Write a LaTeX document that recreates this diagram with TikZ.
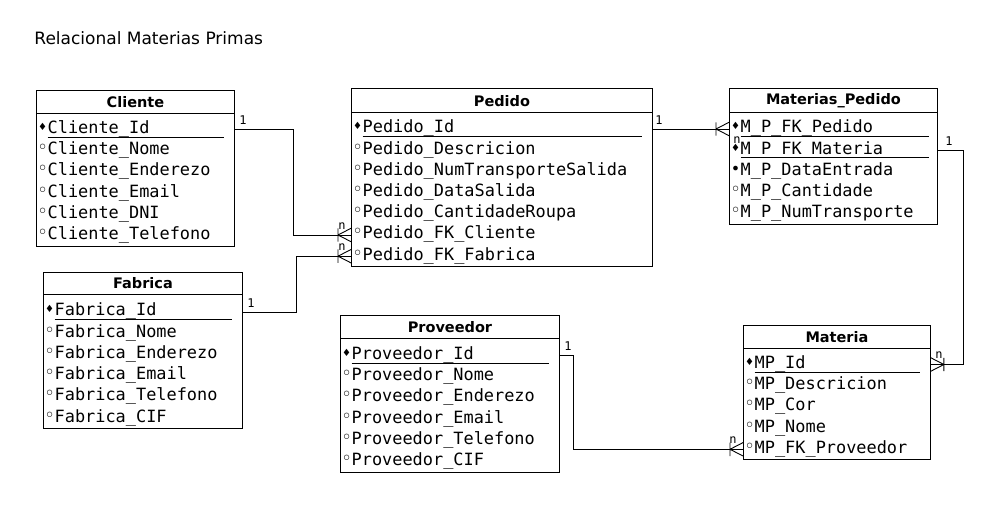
\documentclass[tikz,border=0pt]{standalone}
\usepackage{fontspec}
\setmainfont{DejaVu Sans}
\setmonofont{DejaVu Sans Mono}
\newfontfamily\markfont{DejaVu Sans}
\usepackage{tikz}
\usetikzlibrary{positioning, fit}

% attribute markers
\newcommand{\pkm}{\makebox[10.2pt][c]{\markfont\fontsize{10}{10}\selectfont\raisebox{3pt}{♦}}}
\newcommand{\atm}{\makebox[10.2pt][c]{\markfont\fontsize{18}{18}\selectfont\raisebox{1pt}{◦}}}
\newcommand{\reqm}{\makebox[10.2pt][c]{\markfont\fontsize{16}{16}\selectfont\raisebox{1pt}{•}}}
\newcommand{\pk}[2]{\pkm\rlap{\rule[-4pt]{#1}{0.8pt}}#2}
% crow's foot at a box edge, #2 = side of the vertex
\newcommand{\crowfoot}[2]{%
  \draw ([xshift=#2]#1) -- ([yshift=6.7pt]#1)
        ([xshift=#2]#1) -- ([yshift=-6.7pt]#1)
        ([xshift=#2,yshift=6.7pt]#1) -- ([xshift=#2,yshift=-6.7pt]#1);}

\begin{document}
\begin{tikzpicture}[x=1pt, y=-1pt, line width=0.9pt]
    \tikzstyle{head} = [rectangle, draw, anchor=north west, inner sep=0pt, minimum height=23pt, font=\bfseries\fontsize{14.5}{15}\selectfont]
    \tikzstyle{attr} = [rectangle, inner sep=0pt, outer sep=0pt, minimum height=21.2pt, text height=12pt, text depth=4pt, font=\ttfamily\fontsize{16.9}{17}\selectfont]
    \tikzstyle{box} = [rectangle, draw, inner sep=0pt]
    \tikzstyle{card} = [inner sep=0pt, font=\ttfamily\fontsize{12}{12}\selectfont]
    \tikzstyle{line} = [draw]

    \path [fill=white] (0,0) rectangle (995,510);
    \useasboundingbox (0,0) rectangle (995,510);

    \node [anchor=west, inner sep=0pt, font=\fontsize{17}{17}\selectfont] (title) at (34,38) {Relacional Materias Primas};

    % Cliente
    \node [head, minimum width=198pt] (cli) at (36,90) {Cliente};
    \node [attr, below=5pt of cli.south west, anchor=north west, xshift=1.5pt] (cli-id) {\pk{176.3pt}{Cliente\_Id}};
    \node [attr, below=0pt of cli-id.south west, anchor=north west] (cli-nome) {\atm Cliente\_Nome};
    \node [attr, below=0pt of cli-nome.south west, anchor=north west] (cli-end) {\atm Cliente\_Enderezo};
    \node [attr, below=0pt of cli-end.south west, anchor=north west] (cli-mail) {\atm Cliente\_Email};
    \node [attr, below=0pt of cli-mail.south west, anchor=north west] (cli-dni) {\atm Cliente\_DNI};
    \node [attr, below=0pt of cli-dni.south west, anchor=north west] (cli-tel) {\atm Cliente\_Telefono};
    \node [box, fit=(cli)(cli-tel)] (cli-box) {};

    % Pedido
    \node [head, minimum width=301pt, minimum height=24pt] (ped) at (351,88.5) {Pedido};
    \node [attr, below=5pt of ped.south west, anchor=north west, xshift=1.5pt] (ped-id) {\pk{279.3pt}{Pedido\_Id}};
    \node [attr, below=0pt of ped-id.south west, anchor=north west] (ped-desc) {\atm Pedido\_Descricion};
    \node [attr, below=0pt of ped-desc.south west, anchor=north west] (ped-num) {\atm Pedido\_NumTransporteSalida};
    \node [attr, below=0pt of ped-num.south west, anchor=north west] (ped-data) {\atm Pedido\_DataSalida};
    \node [attr, below=0pt of ped-data.south west, anchor=north west] (ped-cant) {\atm Pedido\_CantidadeRoupa};
    \node [attr, below=0pt of ped-cant.south west, anchor=north west] (ped-fkcli) {\atm Pedido\_FK\_Cliente};
    \node [attr, below=0pt of ped-fkcli.south west, anchor=north west] (ped-fkfab) {\atm Pedido\_FK\_Fabrica};
    \node [box, fit=(ped)(ped-fkfab)] (ped-box) {};

    % Materias_Pedido
    \node [head, minimum width=208pt, minimum height=24pt] (mp) at (729,88.5) {Materias\_Pedido};
    \node [attr, below=5pt of mp.south west, anchor=north west, xshift=1.5pt] (mp-fkped) {\pk{188.3pt}{M\_P\_FK\_Pedido}};
    \node [attr, below=0pt of mp-fkped.south west, anchor=north west] (mp-fkmat) {\pk{188.3pt}{M\_P\_FK\_Materia}};
    \node [attr, below=0pt of mp-fkmat.south west, anchor=north west] (mp-data) {\reqm M\_P\_DataEntrada};
    \node [attr, below=0pt of mp-data.south west, anchor=north west] (mp-cant) {\atm M\_P\_Cantidade};
    \node [attr, below=0pt of mp-cant.south west, anchor=north west] (mp-num) {\atm M\_P\_NumTransporte};
    \node [box, fit=(mp)(mp-num)] (mp-box) {};

    % Fabrica
    \node [head, minimum width=199pt, minimum height=22pt] (fab) at (43,272) {Fabrica};
    \node [attr, below=6.5pt of fab.south west, anchor=north west, xshift=1.5pt] (fab-id) {\pk{177.3pt}{Fabrica\_Id}};
    \node [attr, below=0pt of fab-id.south west, anchor=north west] (fab-nome) {\atm Fabrica\_Nome};
    \node [attr, below=0pt of fab-nome.south west, anchor=north west] (fab-end) {\atm Fabrica\_Enderezo};
    \node [attr, below=0pt of fab-end.south west, anchor=north west] (fab-mail) {\atm Fabrica\_Email};
    \node [attr, below=0pt of fab-mail.south west, anchor=north west] (fab-tel) {\atm Fabrica\_Telefono};
    \node [attr, below=0pt of fab-tel.south west, anchor=north west] (fab-cif) {\atm Fabrica\_CIF};
    \node [box, fit=(fab)(fab-cif)] (fab-box) {};

    % Proveedor
    \node [head, minimum width=219pt] (prov) at (340,315) {Proveedor};
    \node [attr, below=6pt of prov.south west, anchor=north west, xshift=1.5pt] (prov-id) {\pk{197.3pt}{Proveedor\_Id}};
    \node [attr, below=0pt of prov-id.south west, anchor=north west] (prov-nome) {\atm Proveedor\_Nome};
    \node [attr, below=0pt of prov-nome.south west, anchor=north west] (prov-end) {\atm Proveedor\_Enderezo};
    \node [attr, below=0pt of prov-end.south west, anchor=north west] (prov-mail) {\atm Proveedor\_Email};
    \node [attr, below=0pt of prov-mail.south west, anchor=north west] (prov-tel) {\atm Proveedor\_Telefono};
    \node [attr, below=0pt of prov-tel.south west, anchor=north west] (prov-cif) {\atm Proveedor\_CIF};
    \node [box, fit=(prov)(prov-cif)] (prov-box) {};

    % Materia
    \node [head, minimum width=187pt] (mat) at (743,325) {Materia};
    \node [attr, below=5pt of mat.south west, anchor=north west, xshift=1.5pt] (mat-id) {\pk{165.3pt}{MP\_Id}};
    \node [attr, below=0pt of mat-id.south west, anchor=north west] (mat-desc) {\atm MP\_Descricion};
    \node [attr, below=0pt of mat-desc.south west, anchor=north west] (mat-cor) {\atm MP\_Cor};
    \node [attr, below=0pt of mat-cor.south west, anchor=north west] (mat-nome) {\atm MP\_Nome};
    \node [attr, below=0pt of mat-nome.south west, anchor=north west] (mat-fkprov) {\atm MP\_FK\_Proveedor};
    \node [box, fit=(mat)(mat-fkprov)] (mat-box) {};

    % relation ends
    \coordinate (cli-out) at (cli-id -| cli.east);
    \coordinate (fab-out) at (fab-id -| fab.east);
    \coordinate (ped-out) at (ped-id -| ped.east);
    \coordinate (mp-out) at (mp-fkmat -| mp.east);
    \coordinate (prov-out) at (prov-id -| prov.east);
    \coordinate (ped-in-cli) at (ped-fkcli -| ped.west);
    \coordinate (ped-in-fab) at (ped-fkfab -| ped.west);
    \coordinate (mp-in-ped) at (mp-fkped -| mp.west);
    \coordinate (mat-in-mp) at (mat-id -| mat.east);
    \coordinate (mat-in-prov) at (mat-fkprov -| mat.west);

    \path [line] (cli-out) -- ++(59,0) |- (ped-in-cli);
    \path [line] (fab-out) -- ++(54,0) |- (ped-in-fab);
    \path [line] (ped-out) -- (mp-in-ped);
    \path [line] (mp-out) -- ++(26,0) |- (mat-in-mp);
    \path [line] (prov-out) -- ++(14,0) |- (mat-in-prov);

    \crowfoot{ped-in-cli}{-13pt}
    \crowfoot{ped-in-fab}{-13pt}
    \crowfoot{mp-in-ped}{-13pt}
    \crowfoot{mat-in-mp}{13pt}
    \crowfoot{mat-in-prov}{-13pt}

    \node [card] (one-cli) at ([xshift=8pt,yshift=9pt]cli-out) {1};
    \node [card] (one-fab) at ([xshift=8pt,yshift=9pt]fab-out) {1};
    \node [card] (one-ped) at ([xshift=6pt,yshift=9pt]ped-out) {1};
    \node [card] (one-mp) at ([xshift=11pt,yshift=9pt]mp-out) {1};
    \node [card] (one-prov) at ([xshift=8pt,yshift=9pt]prov-out) {1};
    \node [card] (n-cli) at ([xshift=-9pt,yshift=9pt]ped-in-cli) {n};
    \node [card] (n-fab) at ([xshift=-9pt,yshift=9pt]ped-in-fab) {n};
    \node [card] (n-ped) at ([xshift=8pt,yshift=-11pt]mp-in-ped) {n};
    \node [card] (n-mat) at ([xshift=8pt,yshift=9pt]mat-in-mp) {n};
    \node [card] (n-prov) at ([xshift=-10pt,yshift=9pt]mat-in-prov) {n};
\end{tikzpicture}
\end{document}
